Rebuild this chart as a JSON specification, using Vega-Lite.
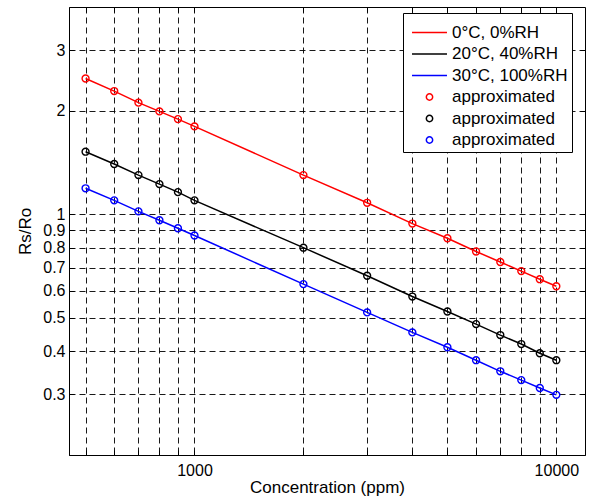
{
  "$schema": "https://vega.github.io/schema/vega-lite/v6.json",
  "width": 516,
  "height": 448,
  "autosize": {"type": "none"},
  "padding": {"left": 69, "top": 7, "right": 4, "bottom": 47},
  "background": "white",
  "config": {
    "font": "Liberation Sans",
    "view": {"stroke": "black", "strokeWidth": 1},
    "axis": {
      "labelFont": "Liberation Sans",
      "titleFont": "Liberation Sans",
      "labelFontSize": 16,
      "titleFontSize": 17,
      "titleFontWeight": "normal",
      "labelColor": "black",
      "titleColor": "black",
      "domainColor": "black",
      "tickColor": "black",
      "gridColor": "#000",
      "gridDash": [6, 4],
      "gridWidth": 1,
      "gridOpacity": 0.9,
      "tickSize": -5
    },
    "legend": {
      "labelFont": "Liberation Sans",
      "labelFontSize": 17,
      "labelColor": "black"
    }
  },
  "data": {
    "values": [
      {"c": 500, "key": "0°C, 0%RH", "v": 2.48},
      {"c": 600, "key": "0°C, 0%RH", "v": 2.28},
      {"c": 700, "key": "0°C, 0%RH", "v": 2.11},
      {"c": 800, "key": "0°C, 0%RH", "v": 1.99},
      {"c": 900, "key": "0°C, 0%RH", "v": 1.89},
      {"c": 1000, "key": "0°C, 0%RH", "v": 1.80},
      {"c": 2000, "key": "0°C, 0%RH", "v": 1.30},
      {"c": 3000, "key": "0°C, 0%RH", "v": 1.08},
      {"c": 4000, "key": "0°C, 0%RH", "v": 0.94},
      {"c": 5000, "key": "0°C, 0%RH", "v": 0.852},
      {"c": 6000, "key": "0°C, 0%RH", "v": 0.78},
      {"c": 7000, "key": "0°C, 0%RH", "v": 0.727},
      {"c": 8000, "key": "0°C, 0%RH", "v": 0.684},
      {"c": 9000, "key": "0°C, 0%RH", "v": 0.648},
      {"c": 10000, "key": "0°C, 0%RH", "v": 0.618},
      {"c": 500, "key": "20°C, 40%RH", "v": 1.52},
      {"c": 600, "key": "20°C, 40%RH", "v": 1.40},
      {"c": 700, "key": "20°C, 40%RH", "v": 1.30},
      {"c": 800, "key": "20°C, 40%RH", "v": 1.224},
      {"c": 900, "key": "20°C, 40%RH", "v": 1.16},
      {"c": 1000, "key": "20°C, 40%RH", "v": 1.098},
      {"c": 2000, "key": "20°C, 40%RH", "v": 0.80},
      {"c": 3000, "key": "20°C, 40%RH", "v": 0.663},
      {"c": 4000, "key": "20°C, 40%RH", "v": 0.577},
      {"c": 5000, "key": "20°C, 40%RH", "v": 0.522},
      {"c": 6000, "key": "20°C, 40%RH", "v": 0.48},
      {"c": 7000, "key": "20°C, 40%RH", "v": 0.446},
      {"c": 8000, "key": "20°C, 40%RH", "v": 0.42},
      {"c": 9000, "key": "20°C, 40%RH", "v": 0.395},
      {"c": 10000, "key": "20°C, 40%RH", "v": 0.377},
      {"c": 500, "key": "30°C, 100%RH", "v": 1.19},
      {"c": 600, "key": "30°C, 100%RH", "v": 1.098},
      {"c": 700, "key": "30°C, 100%RH", "v": 1.02},
      {"c": 800, "key": "30°C, 100%RH", "v": 0.961},
      {"c": 900, "key": "30°C, 100%RH", "v": 0.911},
      {"c": 1000, "key": "30°C, 100%RH", "v": 0.868},
      {"c": 2000, "key": "30°C, 100%RH", "v": 0.627},
      {"c": 3000, "key": "30°C, 100%RH", "v": 0.519},
      {"c": 4000, "key": "30°C, 100%RH", "v": 0.454},
      {"c": 5000, "key": "30°C, 100%RH", "v": 0.411},
      {"c": 6000, "key": "30°C, 100%RH", "v": 0.377},
      {"c": 7000, "key": "30°C, 100%RH", "v": 0.35},
      {"c": 8000, "key": "30°C, 100%RH", "v": 0.33},
      {"c": 9000, "key": "30°C, 100%RH", "v": 0.313},
      {"c": 10000, "key": "30°C, 100%RH", "v": 0.299},
      {"c": 500, "key": "approx1", "v": 2.48},
      {"c": 600, "key": "approx1", "v": 2.28},
      {"c": 700, "key": "approx1", "v": 2.11},
      {"c": 800, "key": "approx1", "v": 1.99},
      {"c": 900, "key": "approx1", "v": 1.89},
      {"c": 1000, "key": "approx1", "v": 1.80},
      {"c": 2000, "key": "approx1", "v": 1.30},
      {"c": 3000, "key": "approx1", "v": 1.08},
      {"c": 4000, "key": "approx1", "v": 0.94},
      {"c": 5000, "key": "approx1", "v": 0.852},
      {"c": 6000, "key": "approx1", "v": 0.78},
      {"c": 7000, "key": "approx1", "v": 0.727},
      {"c": 8000, "key": "approx1", "v": 0.684},
      {"c": 9000, "key": "approx1", "v": 0.648},
      {"c": 10000, "key": "approx1", "v": 0.618},
      {"c": 500, "key": "approx2", "v": 1.52},
      {"c": 600, "key": "approx2", "v": 1.40},
      {"c": 700, "key": "approx2", "v": 1.30},
      {"c": 800, "key": "approx2", "v": 1.224},
      {"c": 900, "key": "approx2", "v": 1.16},
      {"c": 1000, "key": "approx2", "v": 1.098},
      {"c": 2000, "key": "approx2", "v": 0.80},
      {"c": 3000, "key": "approx2", "v": 0.663},
      {"c": 4000, "key": "approx2", "v": 0.577},
      {"c": 5000, "key": "approx2", "v": 0.522},
      {"c": 6000, "key": "approx2", "v": 0.48},
      {"c": 7000, "key": "approx2", "v": 0.446},
      {"c": 8000, "key": "approx2", "v": 0.42},
      {"c": 9000, "key": "approx2", "v": 0.395},
      {"c": 10000, "key": "approx2", "v": 0.377},
      {"c": 500, "key": "approx3", "v": 1.19},
      {"c": 600, "key": "approx3", "v": 1.098},
      {"c": 700, "key": "approx3", "v": 1.02},
      {"c": 800, "key": "approx3", "v": 0.961},
      {"c": 900, "key": "approx3", "v": 0.911},
      {"c": 1000, "key": "approx3", "v": 0.868},
      {"c": 2000, "key": "approx3", "v": 0.627},
      {"c": 3000, "key": "approx3", "v": 0.519},
      {"c": 4000, "key": "approx3", "v": 0.454},
      {"c": 5000, "key": "approx3", "v": 0.411},
      {"c": 6000, "key": "approx3", "v": 0.377},
      {"c": 7000, "key": "approx3", "v": 0.35},
      {"c": 8000, "key": "approx3", "v": 0.33},
      {"c": 9000, "key": "approx3", "v": 0.313},
      {"c": 10000, "key": "approx3", "v": 0.299}
    ]
  },
  "resolve": {"axis": {"x": "independent", "y": "independent"}},
  "layer": [
    {
      "transform": [{"filter": {"field": "key", "oneOf": ["0°C, 0%RH", "20°C, 40%RH", "30°C, 100%RH"]}}],
      "mark": {"type": "line", "strokeWidth": 1.5},
      "encoding": {
        "x": {
          "field": "c",
          "type": "quantitative",
          "scale": {"type": "log", "domain": [450, 12000], "nice": false},
          "axis": {
            "title": "Concentration (ppm)",
            "orient": "bottom",
            "values": [500, 600, 700, 800, 900, 1000, 2000, 3000, 4000, 5000, 6000, 7000, 8000, 9000, 10000],
            "format": "d",
            "labelExpr": "datum.value == 1000 || datum.value == 10000 ? datum.label : ''",
            "labelPadding": 12,
            "titlePadding": 1,
            "labelFlush": false,
            "labelOverlap": false
          }
        },
        "y": {
          "field": "v",
          "type": "quantitative",
          "scale": {"type": "log", "domain": [0.2, 4], "nice": false},
          "axis": {
            "title": "Rs/Ro",
            "orient": "left",
            "values": [0.3, 0.4, 0.5, 0.6, 0.7, 0.8, 0.9, 1, 2, 3],
            "format": "~g",
            "labelPadding": 9,
            "titlePadding": 8,
            "labelFlush": false,
            "labelOverlap": false
          }
        },
        "color": {
          "field": "key",
          "type": "nominal",
          "scale": {
            "domain": ["0°C, 0%RH", "20°C, 40%RH", "30°C, 100%RH", "approx1", "approx2", "approx3"],
            "range": ["#ff0000", "#000000", "#0000ff", "#ff0000", "#000000", "#0000ff"]
          },
          "legend": {
            "title": " ",
            "titleFontSize": 1,
            "titlePadding": 6,
            "orient": "none",
            "legendX": 334,
            "legendY": 6,
            "labelExpr": "substring(datum.label, 0, 6) == 'approx' ? 'approximated' : datum.label",
            "strokeColor": "black",
            "fillColor": "white",
            "padding": 4,
            "rowPadding": 3.5,
            "symbolSize": 40,
            "symbolStrokeWidth": 1.5,
            "labelOffset": 28,
            "labelLimit": 300,
            "encode": {
              "symbols": {
                "update": {
                  "x": {"value": 22.5},
                  "shape": {"signal": "substring(datum.value, 0, 6) == 'approx' ? 'circle' : 'M-5.53,0H5.53'"},
                  "fill": {"value": "transparent"},
                  "stroke": {"scale": "color", "field": "value"},
                  "strokeWidth": {"value": 1.5},
                  "size": {"value": 40}
                }
              }
            }
          }
        }
      }
    },
    {
      "transform": [{"filter": {"field": "key", "oneOf": ["approx1", "approx2", "approx3"]}}],
      "mark": {"type": "point", "shape": "circle", "filled": false, "strokeWidth": 1.4, "opacity": 1, "size": 48},
      "encoding": {
        "x": {
          "field": "c",
          "type": "quantitative",
          "axis": {
            "orient": "top",
            "title": null,
            "labels": false,
            "grid": false,
            "domain": false,
            "values": [500, 600, 700, 800, 900, 1000, 2000, 3000, 4000, 5000, 6000, 7000, 8000, 9000, 10000]
          }
        },
        "y": {
          "field": "v",
          "type": "quantitative",
          "axis": {
            "orient": "right",
            "title": null,
            "labels": false,
            "grid": false,
            "domain": false,
            "values": [0.3, 0.4, 0.5, 0.6, 0.7, 0.8, 0.9, 1, 2, 3]
          }
        },
        "color": {"field": "key", "type": "nominal"}
      }
    }
  ]
}
